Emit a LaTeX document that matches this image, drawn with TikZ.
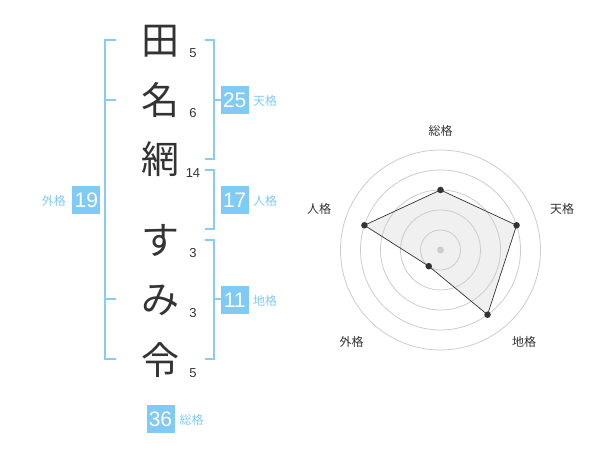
\documentclass[tikz,border=0pt]{standalone}
\usepackage{fontspec}
\usetikzlibrary{calc}
\setmainfont{Liberation Sans}
\newfontfamily\jp{Noto Sans CJK JP}
\definecolor{brk}{RGB}{136,204,245}
\definecolor{boxc}{RGB}{128,202,246}
\definecolor{lbl}{RGB}{128,202,246}
\definecolor{ink}{RGB}{51,51,51}
\definecolor{ring}{RGB}{204,204,204}
\definecolor{area}{RGB}{240,240,240}
\begin{document}
\begin{tikzpicture}[x=1pt,y=-1pt,
  kanji/.style={font=\jp\fontsize{38}{38}\selectfont,text=ink,inner sep=0pt},
  stroke/.style={font=\fontsize{13}{13}\selectfont,text=ink,inner sep=0pt},
  numbox/.style={fill=boxc,text=white,minimum width=28pt,minimum height=28pt,inner sep=0pt,font=\fontsize{21}{21}\selectfont},
  klabel/.style={font=\jp\fontsize{12}{12}\selectfont,text=lbl,inner sep=0pt},
  bracket/.style={draw=brk,line width=2pt},
  rlabel/.style={font=\jp\fontsize{12}{12}\selectfont,text=ink,inner sep=0pt},
  ringline/.style={draw=ring,line width=0.8pt},
  vdot/.style={circle,fill=ink,inner sep=0pt,minimum size=6.5pt}]
\useasboundingbox (0,0) rectangle (600,470);
% characters
\node[kanji] (k1) at (160,41) {田};
\node[kanji] (k2) at (160,100.5) {名};
\node[kanji] (k3) at (160,159.5) {網};
\node[kanji] (k4) at (160,240) {す};
\node[kanji] (k5) at (160,300.5) {み};
\node[kanji] (k6) at (160,360) {令};
\node[stroke] (s1) at (193,52.7) {5};
\node[stroke] (s2) at (193,112.7) {6};
\node[stroke] (s3) at (193,172.7) {14};
\node[stroke] (s4) at (193,252.7) {3};
\node[stroke] (s5) at (193,313.3) {3};
\node[stroke] (s6) at (193,373.3) {5};
% outer bracket
\coordinate (o1) at (116,40); \coordinate (o2) at (105,40);
\coordinate (o3) at (105,359.3); \coordinate (o4) at (116,359.3);
\draw[bracket] (o1) -- (o2) -- (o3) -- (o4);
\coordinate (om1) at (105,100); \coordinate (om2) at (116,100);
\coordinate (om3) at (105,299.3); \coordinate (om4) at (116,299.3);
\draw[bracket] (om1) -- (om2);
\draw[bracket] (om3) -- (om4);
% ten bracket
\coordinate (t1) at (205,40); \coordinate (t2) at (214.3,40);
\coordinate (t3) at (214.3,159.3); \coordinate (t4) at (205,159.3);
\draw[bracket] (t1) -- (t2) -- (t3) -- (t4);
\coordinate (tm1) at (214.3,100); \coordinate (tm2) at (221,100);
\draw[bracket] (tm1) -- (tm2);
% jin bracket
\coordinate (j1) at (205,170); \coordinate (j2) at (214.3,170);
\coordinate (j3) at (214.3,229.3); \coordinate (j4) at (205,229.3);
\draw[bracket] (j1) -- (j2) -- (j3) -- (j4);
% chi bracket
\coordinate (c1) at (205,240); \coordinate (c2) at (214.3,240);
\coordinate (c3) at (214.3,359.3); \coordinate (c4) at (205,359.3);
\draw[bracket] (c1) -- (c2) -- (c3) -- (c4);
\coordinate (cm1) at (214.3,299.3); \coordinate (cm2) at (221,299.3);
\draw[bracket] (cm1) -- (cm2);
% boxes
\node[numbox] (b25) at (234.7,100) {25};
\node[klabel,anchor=west] (l25) at (253,101) {天格};
\node[numbox] (b17) at (234.7,200) {17};
\node[klabel,anchor=west] (l17) at (253,201) {人格};
\node[numbox] (b11) at (234.7,300) {11};
\node[klabel,anchor=west] (l11) at (253,301) {地格};
\node[numbox] (b19) at (86.3,200) {19};
\node[klabel,anchor=east] (l19) at (66,201) {外格};
\node[numbox] (b36) at (160.5,419) {36};
\node[klabel,anchor=west] (l36) at (179.5,420) {総格};
% radar
\coordinate (rc) at (440.5,250);
\coordinate (p1) at ($(rc)+(-90:60)$);
\coordinate (p2) at ($(rc)+(-18:80)$);
\coordinate (p3) at ($(rc)+(54:80)$);
\coordinate (p4) at ($(rc)+(126:20)$);
\coordinate (p5) at ($(rc)+(198:80)$);
\fill[area] (p1) -- (p2) -- (p3) -- (p4) -- (p5) -- cycle;
\foreach \r in {20,40,60,80,100} \draw[ringline] (rc) circle (\r);
\fill[ring] (rc) circle (3.5);
\draw[draw=ink,line width=0.7pt] (p1) -- (p2) -- (p3) -- (p4) -- (p5) -- cycle;
\foreach \p in {p1,p2,p3,p4,p5} \node[vdot] at (\p) {};
\node[rlabel] (r1) at (440.7,130.5) {総格};
\node[rlabel] (r2) at (562,209) {天格};
\node[rlabel] (r3) at (524,341.7) {地格};
\node[rlabel] (r4) at (351.7,342) {外格};
\node[rlabel] (r5) at (319,209) {人格};
\end{tikzpicture}
\end{document}
